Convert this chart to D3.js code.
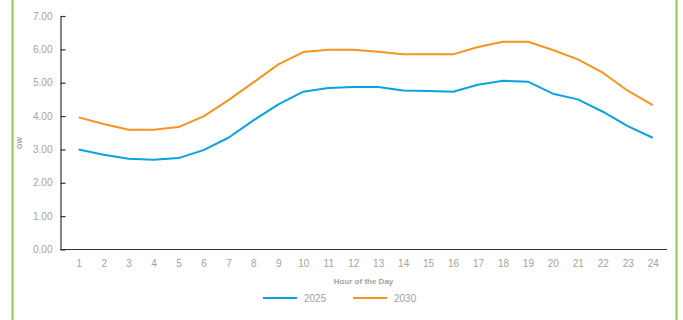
<!DOCTYPE html>
<html>
<head>
<meta charset="utf-8">
<script src="https://cdn.jsdelivr.net/npm/d3@7"></script>
<style>
  html, body { margin: 0; padding: 0; background: #fff; }
  svg { display: block; }
  text { font-family: "Liberation Sans", Arial, sans-serif; }
</style>
</head>
<body>
<svg id="chart" width="683" height="320"></svg>
<script>
// Hourly demand profile (GW)
const hours = d3.range(1, 25);
const series2025 = [3.00, 2.84, 2.72, 2.69, 2.74, 2.98, 3.35, 3.87, 4.35, 4.73, 4.84, 4.87,
                    4.87, 4.77, 4.75, 4.73, 4.94, 5.06, 5.03, 4.67, 4.50, 4.13, 3.70, 3.35];
const series2030 = [3.96, 3.76, 3.59, 3.59, 3.67, 3.99, 4.48, 5.01, 5.55, 5.92, 5.99, 5.99,
                    5.93, 5.85, 5.85, 5.85, 6.07, 6.23, 6.23, 5.98, 5.70, 5.30, 4.76, 4.33];
const yTicks = [0, 1, 2, 3, 4, 5, 6, 7];
const seriesNames = ["2025", "2030"];
const seriesColors = ["#0aa2e0", "#f7931e"];

const svg = d3.select("#chart");
const textGray = "#a7a19d";

// Side frame
svg.append("line").attr("x1", 12.5).attr("x2", 12.5).attr("y1", 0).attr("y2", 320)
  .attr("stroke", "#8cc84f").attr("stroke-width", 2);
svg.append("line").attr("x1", 676.5).attr("x2", 676.5).attr("y1", 0).attr("y2", 320)
  .attr("stroke", "#8cc84f").attr("stroke-width", 2);

const plotLeft = 60.5, plotRight = 667, plotTop = 16, plotBottom = 249.5;

const x = d3.scaleLinear().domain([1, 24]).range([78.7, 652.7]);
const y = d3.scaleLinear().domain([0, 7]).range([plotBottom, plotTop]);

// Y axis
const yAxis = svg.append("g").attr("transform", `translate(${plotLeft},0)`)
  .call(d3.axisLeft(y).tickValues(yTicks).tickFormat(d3.format(".2f"))
    .tickSize(-5).tickSizeOuter(0).tickPadding(8));
yAxis.select(".domain").attr("stroke", "#333").attr("stroke-width", 1.2);
yAxis.selectAll(".tick line").attr("stroke", "#333").attr("stroke-width", 1.2);
yAxis.selectAll(".tick text").attr("fill", textGray).attr("font-size", 10)
  .attr("font-family", "Liberation Sans, Arial, sans-serif");

// X axis
const xAxis = svg.append("g").attr("transform", `translate(0,${plotBottom})`)
  .call(d3.axisBottom(x).tickValues(hours).tickFormat(d3.format("d"))
    .tickSize(0).tickPadding(10));
xAxis.select(".domain").remove();
xAxis.selectAll(".tick text").attr("fill", textGray).attr("font-size", 10)
  .attr("font-family", "Liberation Sans, Arial, sans-serif");
svg.append("line").attr("x1", plotLeft).attr("x2", plotRight)
  .attr("y1", plotBottom).attr("y2", plotBottom)
  .attr("stroke", "#333").attr("stroke-width", 1.2);

// Axis titles
svg.append("text").attr("x", 363.5).attr("y", 283.5).attr("text-anchor", "middle")
  .attr("fill", textGray).attr("font-size", 8).attr("font-weight", "bold")
  .text("Hour of the Day");
svg.append("text").attr("transform", "translate(22,143) rotate(-90)")
  .attr("text-anchor", "middle").attr("fill", textGray)
  .attr("font-size", 7).attr("font-weight", "bold").text("GW");

// Lines
const line = d3.line().x((d, i) => x(hours[i])).y(d => y(d));
[series2025, series2030].forEach((s, i) => {
  svg.append("path").datum(s).attr("d", line).attr("fill", "none")
    .attr("stroke", seriesColors[i]).attr("stroke-width", 2)
    .attr("stroke-linejoin", "round");
});

// Legend
const legendX = [263, 353];
seriesNames.forEach((name, i) => {
  svg.append("line").attr("x1", legendX[i]).attr("x2", legendX[i] + 34)
    .attr("y1", 298).attr("y2", 298)
    .attr("stroke", seriesColors[i]).attr("stroke-width", 2);
  svg.append("text").attr("x", legendX[i] + 41).attr("y", 301.5)
    .attr("fill", textGray).attr("font-size", 10).text(name);
});
</script>
</body>
</html>
